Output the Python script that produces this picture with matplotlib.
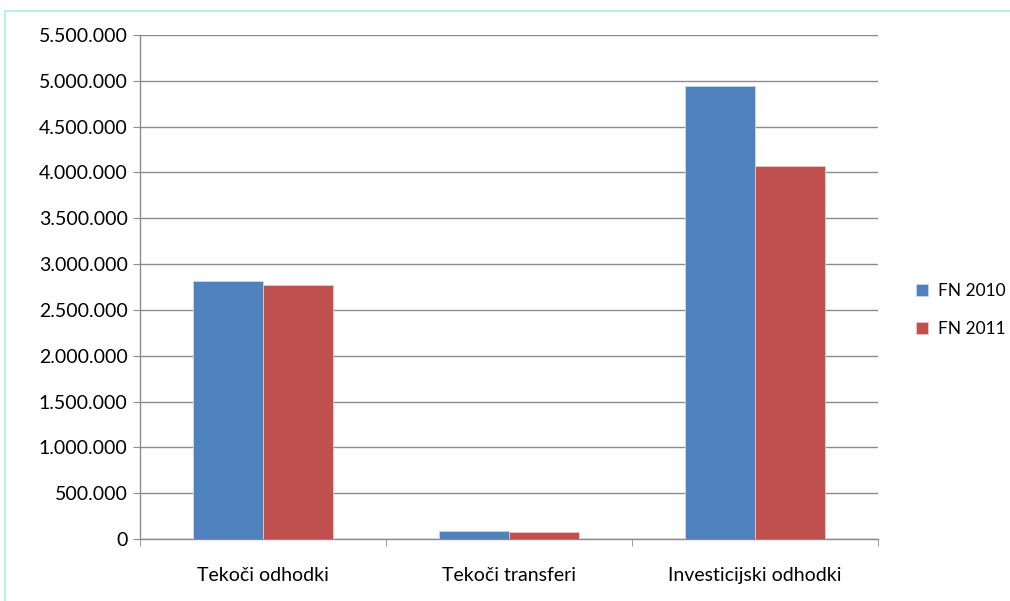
import matplotlib
matplotlib.use("Agg")
import matplotlib.pyplot as plt
from matplotlib.patches import Rectangle
from matplotlib.ticker import FuncFormatter
import numpy as np

categories = ["Tekoči odhodki", "Tekoči transferi", "Investicijski odhodki"]
series_names = ["FN 2010", "FN 2011"]
fn2010 = [2820000, 84000, 4945000]
fn2011 = [2775000, 73000, 4075000]
colors = ["#4F81BD", "#C0504D"]

plt.rcParams['font.family'] = ['Lato', 'DejaVu Sans']

fig = plt.figure(figsize=(10.1, 6.01), dpi=100)
ax = fig.add_axes([140 / 1010, 1 - 539 / 601, 738 / 1010, 504 / 601])

# outer chart frame
fig.patches.append(Rectangle((5 / 1010, -0.1), 1.2, (601 - 11) / 601 + 0.1,
                             transform=fig.transFigure, fill=False,
                             edgecolor="#b4f3dc", linewidth=1.5))

x = np.arange(len(categories))
w = 1 / 3.5
ax.bar(x - w / 2, fn2010, w, color=colors[0], label=series_names[0], zorder=3,
       edgecolor="#c9d9ec", linewidth=0.6)
ax.bar(x + w / 2, fn2011, w, color=colors[1], label=series_names[1], zorder=3,
       edgecolor="#ecc9c8", linewidth=0.6)

ax.set_xlim(-0.5, len(categories) - 0.5)
ax.set_ylim(0, 5500000)
ax.set_yticks(np.arange(0, 5500001, 500000))
ax.yaxis.set_major_formatter(FuncFormatter(lambda v, p: f"{int(v):,}".replace(",", ".")))
ax.set_xticks(x)
ax.set_xticklabels(categories)
ax.set_xticks(np.arange(-0.5, len(categories)), minor=True)

ax.grid(axis="y", color="#8c8c8c", linewidth=1.0, zorder=0)
for s in ["top", "right"]:
    ax.spines[s].set_visible(False)
for s in ["left", "bottom"]:
    ax.spines[s].set_color("#8c8c8c")
    ax.spines[s].set_linewidth(1.0)

ax.tick_params(axis="y", length=5, color="#8c8c8c", labelsize=14, labelcolor="#000000", pad=4)
ax.tick_params(axis="x", which="major", length=0, labelsize=14, pad=20)
ax.tick_params(axis="x", which="minor", length=5, color="#8c8c8c")

ax.legend(loc="center left", bbox_to_anchor=(900 / 1010, 1 - 310 / 601),
          bbox_transform=fig.transFigure, frameon=False, fontsize=12.5,
          handlelength=0.7, handleheight=0.7, handletextpad=0.6, labelspacing=1.3)

fig.savefig("out.png", dpi=100)
